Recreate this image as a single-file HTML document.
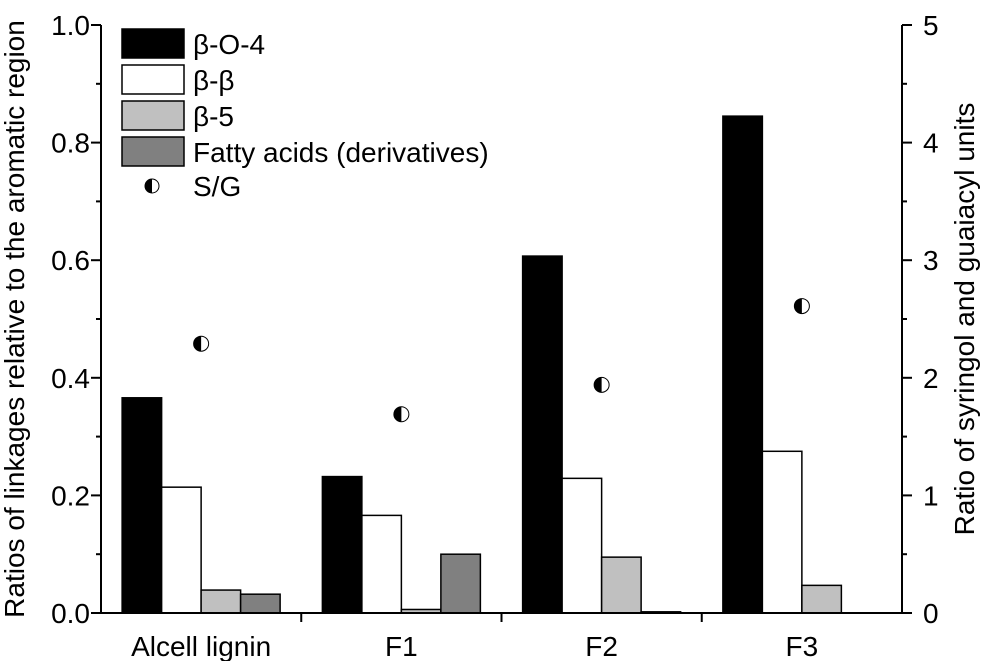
<!DOCTYPE html>
<html><head><meta charset="utf-8"><style>
body{margin:0;background:#fff}
svg text{font-family:"Liberation Sans",Arial,sans-serif;fill:#000}
</style></head><body>
<svg id="chart" width="981" height="661" xmlns="http://www.w3.org/2000/svg"></svg>
<script>
const categories = ["Alcell lignin","F1","F2","F3"];
const seriesNames = ["β-O-4","β-β","β-5","Fatty acids (derivatives)"];
const bo4 = [0.366,0.232,0.607,0.845];
const bb = [0.214,0.166,0.229,0.275];
const b5 = [0.039,0.006,0.095,0.047];
const fatty = [0.032,0.100,0.002,0];
const sg = [2.29,1.69,1.94,2.61];
const leftTicks = ["0.0","0.2","0.4","0.6","0.8","1.0"];
const rightTicks = ["0","1","2","3","4","5"];

const svg = document.getElementById('chart');
const NS = "http://www.w3.org/2000/svg";
const X0=101, X1=902, Y0=613, Y1=25;
const FS=28;
function yL(v){return Y0-(Y0-Y1)*v/1.0;}
function yR(v){return Y0-(Y0-Y1)*v/5;}
function xC(i){return X0+(X1-X0)*(i+0.5)/categories.length;}
function mk(tag,attrs,name,text){const e=document.createElementNS(NS,tag);for(const k in attrs)e.setAttribute(k,attrs[k]);


if(text!==undefined)e.textContent=text;svg.appendChild(e);return e;}

const series=[bo4,bb,b5,fatty];
const fills=["#000","#fff","#c0c0c0","#808080"];
const bw=39.5;
series.forEach((s,si)=>{s.forEach((v,i)=>{
  if(v<=0)return;
  const x=xC(i)-2*bw+si*bw;
  mk('rect',{x:x,y:yL(v),width:bw,height:Y0-yL(v),fill:fills[si],stroke:"#000","stroke-width":1.5},'bar-'+si+'-'+i);
});});

sg.forEach((v,i)=>{
  const cx=xC(i), cy=yR(v), r=7.5;
  mk('circle',{cx:cx,cy:cy,r:r,fill:"#fff",stroke:"#000","stroke-width":1},'sg-point-'+i);
  mk('path',{d:`M${cx},${cy-r} A${r},${r} 0 0 0 ${cx},${cy+r} Z`,fill:"#000"},'sg-point-half-'+i);
});

mk('line',{x1:X0,y1:Y1,x2:X0,y2:Y0,stroke:"#000","stroke-width":2},'left-axis');
mk('line',{x1:X1,y1:Y1,x2:X1,y2:Y0,stroke:"#000","stroke-width":2},'right-axis');
mk('line',{x1:X0,y1:Y0,x2:X1,y2:Y0,stroke:"#000","stroke-width":2},'x-axis');
leftTicks.forEach((t,i)=>{const y=yL(i*0.2);
  mk('line',{x1:X0,y1:y,x2:X0-10,y2:y,stroke:"#000","stroke-width":2},'left-tick');
  if(i<5)mk('line',{x1:X0,y1:yL(i*0.2+0.1),x2:X0-5,y2:yL(i*0.2+0.1),stroke:"#000","stroke-width":2},'left-minor-tick');
  mk('text',{x:X0-11,y:y+10,"text-anchor":"end","font-size":FS},'left-tick-label',t);
});
rightTicks.forEach((t,i)=>{const y=yR(i);
  mk('line',{x1:X1,y1:y,x2:X1+10,y2:y,stroke:"#000","stroke-width":2},'right-tick');
  if(i<5)mk('line',{x1:X1,y1:yR(i+0.5),x2:X1+5,y2:yR(i+0.5),stroke:"#000","stroke-width":2},'right-minor-tick');
  mk('text',{x:X1+21,y:y+10,"font-size":FS},'right-tick-label',t);
});
categories.forEach((c,i)=>{
  if(i>0)mk('line',{x1:X0+(X1-X0)*i/4,y1:Y0,x2:X0+(X1-X0)*i/4,y2:Y0+9,stroke:"#000","stroke-width":2},'x-tick');
  mk('text',{x:xC(i),y:Y0+43,"text-anchor":"middle","font-size":FS},'x-tick-label',c);
});
mk('text',{x:0,y:0,"font-size":FS,"text-anchor":"middle",transform:`translate(24,${(Y0+Y1)/2}) rotate(-90)`},'left-axis-title','Ratios of linkages relative to the aromatic region');
mk('text',{x:0,y:0,"font-size":FS,"text-anchor":"middle",transform:`translate(974,${(Y0+Y1)/2}) rotate(-90)`},'right-axis-title','Ratio of syringol and guaiacyl units');

seriesNames.forEach((n,i)=>{const y=29+i*36;
  mk('rect',{x:122,y:y,width:62,height:29,fill:fills[i],stroke:"#000","stroke-width":1.5},'legend-swatch-'+i);
  mk('text',{x:193,y:y+25,"font-size":FS},'legend-label-'+i,n);
});
(function(){const cx=152,cy=186,r=7;
  mk('circle',{cx:cx,cy:cy,r:r,fill:"#fff",stroke:"#000","stroke-width":1},'legend-sg-marker');
  mk('path',{d:`M${cx},${cy-r} A${r},${r} 0 0 0 ${cx},${cy+r} Z`,fill:"#000"},'legend-sg-marker-half');
  mk('text',{x:193,y:196,"font-size":FS},'legend-sg-label','S/G');
})();
</script>
</body></html>
